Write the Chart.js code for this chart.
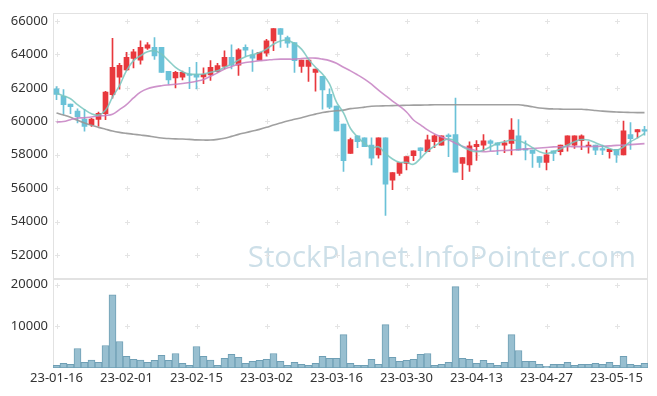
<!DOCTYPE html>
<html>
<head>
<meta charset="utf-8">
<script src="https://cdn.jsdelivr.net/npm/chart.js@4.4.0/dist/chart.umd.min.js"></script>
<style>
  html, body { margin: 0; padding: 0; background: #fff; }
</style>
</head>
<body>
<canvas id="chart" width="657" height="396"></canvas>
<script>
// trading days, 23-01-16 .. 23-05-19
const dates = [
  '23-01-16','23-01-17','23-01-18','23-01-19','23-01-20','23-01-25','23-01-26','23-01-27','23-01-30','23-01-31',
  '23-02-01','23-02-02','23-02-03','23-02-06','23-02-07','23-02-08','23-02-09','23-02-10','23-02-13','23-02-14',
  '23-02-15','23-02-16','23-02-17','23-02-20','23-02-21','23-02-22','23-02-23','23-02-24','23-02-27','23-02-28',
  '23-03-02','23-03-03','23-03-06','23-03-07','23-03-08','23-03-09','23-03-10','23-03-13','23-03-14','23-03-15',
  '23-03-16','23-03-17','23-03-20','23-03-21','23-03-22','23-03-23','23-03-24','23-03-27','23-03-28','23-03-29',
  '23-03-30','23-03-31','23-04-03','23-04-04','23-04-05','23-04-06','23-04-07','23-04-10','23-04-11','23-04-12',
  '23-04-13','23-04-14','23-04-17','23-04-18','23-04-19','23-04-20','23-04-21','23-04-24','23-04-25','23-04-26',
  '23-04-27','23-04-28','23-05-02','23-05-03','23-05-04','23-05-08','23-05-09','23-05-10','23-05-11','23-05-12',
  '23-05-15','23-05-16','23-05-17','23-05-18','23-05-19'
];

const openP = [
  61940,61510,61030,60620,60140,59800,60120,60460,61590,62640,
  63070,63760,63650,64370,64420,64420,62990,62590,62640,62830,
  62810,62660,62770,62970,63290,63820,63360,64420,63980,63660,
  64080,64810,65540,65010,64710,63290,63290,62930,62690,61610,
  60910,59830,58080,59130,59010,58580,57990,59010,56480,56880,
  57490,57950,58420,58180,58780,58580,59180,59210,57490,57400,
  58480,58580,58840,58720,58580,58680,59130,58340,58280,57890,
  57550,58240,58180,58580,58580,58840,58480,58580,58340,58180,
  58320,57990,59210,59370,59470
];
const highP = [
  62080,61900,61030,60750,60720,60180,60560,61800,64970,63470,
  64120,64300,64810,64710,65010,64420,62990,62990,63000,63230,
  63525,63200,63630,63470,64220,64580,64350,64580,64280,64120,
  64900,65540,65540,65100,64710,63660,63660,63130,62690,61940,
  60910,59830,59000,59130,59010,59010,59010,59010,56940,57530,
  57890,58240,58420,59180,59200,59130,59250,61390,57830,58780,
  58850,59210,58900,58720,58850,60160,60100,58840,58280,57890,
  58280,58240,58580,59130,59130,59200,58780,58580,58580,58320,
  58320,60010,59920,59500,59700
];
const lowP = [
  61290,60420,60460,59900,59410,59700,59710,60100,61390,61930,
  63030,63200,63420,64300,63700,62930,62230,62000,62470,61950,
  61940,62250,62440,62940,63130,63130,62750,63900,62990,63660,
  63900,64220,64420,64420,62930,62930,62380,61800,60720,60750,
  59430,57000,58080,58420,58480,57400,57790,54380,55910,56770,
  57100,57650,57830,58180,58420,58580,57890,56960,56510,57000,
  57660,58240,58240,58000,58120,57990,58280,57690,57240,57240,
  57100,57650,57990,58220,58380,58300,58100,58000,58000,57790,
  57550,57990,58320,59010,59180
];
const closeP = [
  61610,60990,60870,60280,59690,60140,60480,61745,63230,63350,
  63820,64160,64420,64580,63910,62930,62480,62930,62930,62740,
  62640,62810,63230,63330,63820,63360,64280,64250,63780,64120,
  64810,65540,65200,64670,63630,63660,63660,63130,61880,60850,
  59430,57650,58910,58780,58480,57790,59010,56240,56940,57530,
  57890,58240,58240,58900,59130,59130,59080,56960,57830,58540,
  58620,58840,58680,58580,58720,59470,58280,58280,58080,57550,
  57990,58080,58580,59130,59130,59130,58580,58280,58280,58320,
  57990,59430,58970,59500,59410
];

const ma5 = [
  61690,61520,61350,61000,60700,60450,60380,60660,61450,62140,
  63030,63630,63920,64160,64220,64020,63630,63230,62970,62830,
  62810,62830,62930,63030,63230,63420,63660,63860,63980,64120,
  64320,64610,64810,64850,64650,64320,63720,63230,62830,62240,
  61150,60500,59570,59070,58680,58420,58480,58080,57750,57550,
  57550,57430,57790,58220,58520,58780,58940,58820,58480,58280,
  58180,58280,58480,58680,58780,58880,58820,58680,58420,58180,
  58080,58180,58340,58580,58780,58910,58880,58720,58540,58380,
  58280,58480,58780,59010,59270
];
const ma20 = [
  59960,59990,60100,60200,60210,60260,60320,60350,60420,60700,
  61000,61400,61750,61950,62060,62130,62180,62220,62260,62320,
  62400,62500,62700,62900,63130,63270,63420,63520,63570,63630,
  63660,63700,63720,63720,63720,63760,63780,63780,63720,63630,
  63470,63230,63020,62780,62520,62220,61860,61540,61210,60910,
  60560,60080,59790,59490,59250,59070,58900,58690,58510,58360,
  58240,58180,58210,58240,58260,58280,58320,58350,58380,58410,
  58440,58470,58480,58490,58490,58490,58490,58500,58510,58530,
  58560,58580,58610,58640,58670
];
const ma60 = [
  60500,60380,60240,60060,59900,59760,59640,59530,59420,59340,
  59280,59230,59180,59130,59060,59000,58970,58950,58940,58920,
  58890,58880,58880,58920,58990,59100,59220,59320,59420,59520,
  59640,59780,59900,60020,60120,60220,60330,60430,60530,60590,
  60630,60670,60760,60800,60850,60900,60920,60930,60940,60950,
  60960,60970,60970,60980,60990,60990,60990,60990,60990,60990,
  60990,60990,60990,60990,60990,60990,60990,60940,60870,60800,
  60760,60740,60730,60720,60720,60720,60690,60650,60610,60580,
  60560,60540,60530,60520,60520
];

const volume = [
  640,1110,870,4680,1350,1900,1350,5400,17550,6350,
  2780,2060,1900,1350,1830,3020,1830,3490,1110,640,
  5160,2780,1900,640,2300,3260,2540,1110,1590,1830,
  2060,3490,1590,640,1350,870,640,1110,2780,2300,
  2300,8020,1110,640,640,2060,870,10400,2540,1590,
  1830,2060,3260,3490,640,870,1350,19530,2300,2060,
  1110,1830,1110,640,1350,8020,4210,1590,1590,870,
  400,870,870,1350,640,870,870,1110,870,1350,
  640,2780,870,640,1110
];

const priceTicks = [52000, 54000, 56000, 58000, 60000, 62000, 64000, 66000];
const volumeTicks = [10000, 20000];

const UP = '#e8383d';
const DOWN = '#6bc2d8';
const candleColors = closeP.map((c, i) => c >= openP[i] ? UP : DOWN);

Chart.defaults.font.family = '"Noto Sans", "DejaVu Sans", sans-serif';
Chart.defaults.font.size = 13;
Chart.defaults.color = '#333';

const WATERMARK = 'StockPlanet.InfoPointer.com';

// frames, "+" grid marks and the watermark
const backdrop = {
  id: 'backdrop',
  beforeDatasetsDraw(chart) {
    const { ctx, chartArea, scales } = chart;
    const L = Math.round(chartArea.left) + 0.5;
    const R = Math.round(chartArea.right) - 0.5;
    ctx.save();

    ctx.font = '32px "Open Sans", sans-serif';
    const size = 32 * 388 / ctx.measureText(WATERMARK).width;
    ctx.font = size.toFixed(1) + 'px "Open Sans", sans-serif';
    ctx.fillStyle = '#cddfe8';
    ctx.textAlign = 'right';
    ctx.textBaseline = 'alphabetic';
    ctx.fillText(WATERMARK, chartArea.right - 12, scales.y.bottom - 12);

    ctx.strokeStyle = '#e2e2e2';
    ctx.lineWidth = 1;
    [scales.y, scales.v].forEach(s => {
      ctx.strokeRect(L, Math.round(s.top) + 0.5, R - L, Math.round(s.bottom) - Math.round(s.top) - 1);
    });

    ctx.strokeStyle = '#e4e4e4';
    const xs = [];
    for (let i = 0; i < dates.length; i += 10) xs.push(Math.round(scales.x.getPixelForValue(i)) + 0.5);
    const ys = priceTicks.map(v => Math.round(scales.y.getPixelForValue(v)) + 0.5)
      .concat(volumeTicks.map(v => Math.round(scales.v.getPixelForValue(v)) + 0.5));
    ctx.beginPath();
    xs.forEach(x => ys.forEach(y => {
      ctx.moveTo(x - 2.5, y); ctx.lineTo(x + 2.5, y);
      ctx.moveTo(x, y - 2.5); ctx.lineTo(x, y + 2.5);
    }));
    ctx.stroke();
    ctx.restore();
  }
};

const lineSet = (data, color, order) => ({
  type: 'line', data, yAxisID: 'y', order,
  borderColor: color, borderWidth: 1.6, pointRadius: 0, tension: 0.4, fill: false
});

new Chart(document.getElementById('chart'), {
  type: 'bar',
  data: {
    labels: dates,
    datasets: [
      lineSet(ma5, 'rgba(120,198,190,0.85)', 1),
      lineSet(ma20, 'rgba(198,128,194,0.85)', 2),
      lineSet(ma60, 'rgba(150,150,150,0.9)', 3),
      {
        data: openP.map((o, i) => [o, closeP[i]]), yAxisID: 'y', order: 4,
        backgroundColor: candleColors, borderWidth: 0, barThickness: 5,
        minBarLength: 1.5, grouped: false
      },
      {
        data: lowP.map((l, i) => [l, highP[i]]), yAxisID: 'y', order: 5,
        backgroundColor: candleColors, borderWidth: 0, barThickness: 1, grouped: false
      },
      {
        data: volume, yAxisID: 'v', order: 6,
        backgroundColor: '#98bfd0', borderColor: '#6f9fb5', borderWidth: 1,
        borderSkipped: false, barPercentage: 1, categoryPercentage: 1, grouped: false
      }
    ]
  },
  options: {
    responsive: false,
    animation: false,
    layout: { padding: { left: 0, right: 9, top: 10, bottom: 0 } },
    plugins: { legend: { display: false }, tooltip: { enabled: false } },
    scales: {
      x: {
        offset: true,
        grid: { display: false, drawTicks: false },
        border: { display: false },
        ticks: {
          autoSkip: false, maxRotation: 0, padding: 2,
          callback: function (val, idx) { return idx % 10 === 0 ? this.getLabelForValue(val) : ''; }
        },
        afterFit: s => { s.height = 28; }
      },
      y: {
        position: 'left', stack: 'pane', stackWeight: 268, weight: 2,
        min: 50590, max: 66490,
        grid: { display: false, drawTicks: false },
        border: { display: false },
        ticks: { padding: 5, callback: v => String(v) },
        afterBuildTicks: s => { s.ticks = priceTicks.map(v => ({ value: v })); },
        afterFit: s => { s.width = 53; }
      },
      v: {
        position: 'left', stack: 'pane', stackWeight: 90, weight: 1,
        min: 0, max: 21430,
        grid: { display: false, drawTicks: false },
        border: { display: false },
        ticks: { padding: 5, callback: v => String(v) },
        afterBuildTicks: s => { s.ticks = volumeTicks.map(v => ({ value: v })); },
        afterFit: s => { s.width = 53; }
      }
    }
  },
  plugins: [backdrop]
});
</script>
</body>
</html>
